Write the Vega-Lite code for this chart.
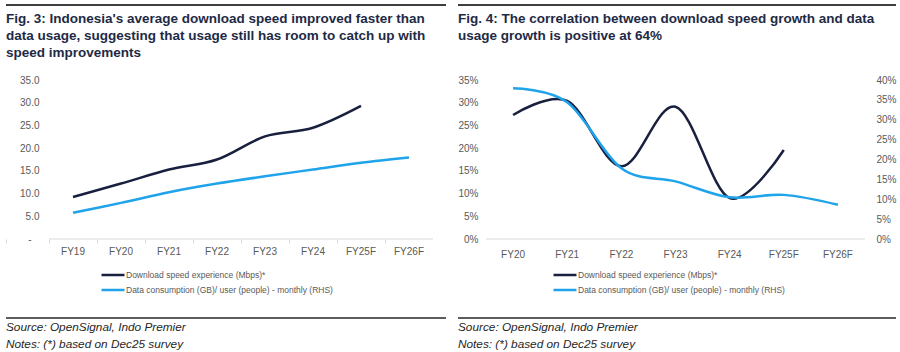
{
  "$schema": "https://vega.github.io/schema/vega-lite/v6.json",
  "padding": {"left": 5, "top": 4, "right": 0, "bottom": 0},
  "spacing": 10,
  "resolve": {"scale": {"color": "independent"}},
  "config": {
    "view": {"stroke": null},
    "font": "Liberation Sans",
    "axis": {"labelFont": "Liberation Sans", "labelColor": "#595959", "labelFontSize": 10, "grid": false, "title": null},
    "legend": {"labelFont": "Liberation Sans"}
  },
  "hconcat": [
    {
      "spacing": 22,
      "resolve": {"scale": {"color": "independent"}},
      "vconcat": [
        {
          "spacing": 5,
          "resolve": {"scale": {"color": "independent"}},
          "vconcat": [
            {
              "width": 440, "height": 2,
              "data": {"values": [{"k": "r"}]},
              "mark": {"type": "rule", "color": "#3f3f3f", "strokeWidth": 2},
              "encoding": {"y": {"field": "k", "type": "nominal", "axis": null}}
            },
            {
              "width": 427, "height": 159,
              "title": {
                "text": ["Fig. 3: Indonesia's average download speed improved faster than", "data usage, suggesting that usage still has room to catch up with", "speed improvements"],
                "anchor": "start", "frame": "group", "fontSize": 13.5, "fontWeight": "bold", "color": "#1e2a45", "lineHeight": 17, "offset": 16
              },
              "layer": [
                {
                  "data": {"values": [{"a": "FY19", "b": "FY26F"}]},
                  "mark": {"type": "rule", "color": "#d9d9d9", "strokeWidth": 1},
                  "encoding": {
                    "x": {"field": "a", "type": "ordinal", "bandPosition": 0,
                      "scale": {"type": "band", "domain": ["FY19", "FY20", "FY21", "FY22", "FY23", "FY24", "FY25F", "FY26F"], "paddingInner": 0, "paddingOuter": 0.448, "align": 1},
                      "axis": {"title": null, "domain": false, "ticks": true, "bandPosition": 0, "tickExtra": true, "tickSize": 4, "tickColor": "#d9d9d9", "labelPadding": 3, "labelAngle": 0}},
                    "x2": {"field": "b", "bandPosition": 1},
                    "y": {"datum": 0, "type": "quantitative", "scale": {"domain": [0, 35]},
                      "axis": {"title": null, "domain": false, "ticks": false, "tickSize": 0, "values": [0, 5, 10, 15, 20, 25, 30, 35], "labelPadding": {"condition": {"test": "datum.value == 0", "value": -25}, "value": -33}, "labelAlign": "right", "labelExpr": "datum.value == 0 ? '-' : format(datum.value, '.1f')"}}
                  }
                },
                {
                  "data": {"values": [
                    {"fy": "FY19", "series": "Download speed experience (Mbps)*", "v": 9.25},
                    {"fy": "FY20", "series": "Download speed experience (Mbps)*", "v": 12.2},
                    {"fy": "FY21", "series": "Download speed experience (Mbps)*", "v": 15.3},
                    {"fy": "FY22", "series": "Download speed experience (Mbps)*", "v": 17.5},
                    {"fy": "FY23", "series": "Download speed experience (Mbps)*", "v": 22.6},
                    {"fy": "FY24", "series": "Download speed experience (Mbps)*", "v": 24.5},
                    {"fy": "FY25F", "series": "Download speed experience (Mbps)*", "v": 29.3},
                    {"fy": "FY19", "series": "Data consumption (GB)/ user (people) - monthly (RHS)", "v": 5.8},
                    {"fy": "FY20", "series": "Data consumption (GB)/ user (people) - monthly (RHS)", "v": 7.95},
                    {"fy": "FY21", "series": "Data consumption (GB)/ user (people) - monthly (RHS)", "v": 10.3},
                    {"fy": "FY22", "series": "Data consumption (GB)/ user (people) - monthly (RHS)", "v": 12.2},
                    {"fy": "FY23", "series": "Data consumption (GB)/ user (people) - monthly (RHS)", "v": 13.8},
                    {"fy": "FY24", "series": "Data consumption (GB)/ user (people) - monthly (RHS)", "v": 15.3},
                    {"fy": "FY25F", "series": "Data consumption (GB)/ user (people) - monthly (RHS)", "v": 16.8},
                    {"fy": "FY26F", "series": "Data consumption (GB)/ user (people) - monthly (RHS)", "v": 17.95}
                  ]},
                  "mark": {"type": "line", "interpolate": "cardinal", "strokeWidth": 2.5},
                  "encoding": {
                    "x": {"field": "fy", "type": "ordinal",
                      "scale": {"type": "band", "domain": ["FY19", "FY20", "FY21", "FY22", "FY23", "FY24", "FY25F", "FY26F"], "paddingInner": 0, "paddingOuter": 0.448, "align": 1},
                      "axis": {"title": null, "domain": false, "ticks": true, "bandPosition": 0, "tickExtra": true, "tickSize": 4, "tickColor": "#d9d9d9", "labelPadding": 3, "labelAngle": 0}},
                    "y": {"field": "v", "type": "quantitative", "scale": {"domain": [0, 35]},
                      "axis": {"title": null, "domain": false, "ticks": false, "tickSize": 0, "values": [0, 5, 10, 15, 20, 25, 30, 35], "labelPadding": {"condition": {"test": "datum.value == 0", "value": -25}, "value": -33}, "labelAlign": "right", "labelExpr": "datum.value == 0 ? '-' : format(datum.value, '.1f')"}},
                    "color": {"field": "series", "type": "nominal",
                      "scale": {"domain": ["Download speed experience (Mbps)*", "Data consumption (GB)/ user (people) - monthly (RHS)"], "range": ["#19203f", "#1fa3ea"]},
                      "legend": {"title": null, "orient": "none", "legendX": 100, "legendY": 188, "direction": "vertical", "symbolType": "M-2,0H2", "symbolSize": 132, "symbolStrokeWidth": 2.5, "labelFontSize": 8.5, "labelColor": "#595959", "labelOffset": 6, "labelLimit": 0, "rowPadding": 3, "padding": 0}}
                  }
                }
              ]
            }
          ]
        },
        {
          "width": 440, "height": 2,
          "data": {"values": [{"k": "r"}]},
          "mark": {"type": "rule", "color": "#262626", "strokeWidth": 1.5},
          "encoding": {"y": {"field": "k", "type": "nominal", "axis": null}},
          "title": {"text": ["Source: OpenSignal, Indo Premier", "Notes: (*) based on Dec25 survey"], "orient": "bottom", "anchor": "start", "frame": "group", "fontSize": 11.8, "fontStyle": "italic", "fontWeight": "normal", "color": "#262626", "lineHeight": 16.5, "offset": 3}
        }
      ]
    },
    {
      "spacing": 22,
      "resolve": {"scale": {"color": "independent"}},
      "vconcat": [
        {
          "spacing": 5,
          "resolve": {"scale": {"color": "independent"}},
          "vconcat": [
            {
              "width": 438, "height": 2,
              "data": {"values": [{"k": "r"}]},
              "mark": {"type": "rule", "color": "#3f3f3f", "strokeWidth": 2},
              "encoding": {"y": {"field": "k", "type": "nominal", "axis": null}}
            },
            {
              "width": 407, "height": 159,
              "title": {
                "text": ["Fig. 4: The correlation between download speed growth and data", "usage growth is positive at 64%"],
                "anchor": "start", "frame": "group", "fontSize": 13.5, "fontWeight": "bold", "color": "#1e2a45", "lineHeight": 17, "offset": 33
              },
              "resolve": {"scale": {"y": "independent"}},
              "layer": [
                {
                  "layer": [
                    {
                      "data": {"values": [{"a": "FY20", "b": "FY26F"}]},
                      "mark": {"type": "rule", "color": "#d9d9d9", "strokeWidth": 1},
                      "encoding": {
                        "x": {"field": "a", "type": "ordinal", "bandPosition": 0,
                          "scale": {"type": "band", "domain": ["FY20", "FY21", "FY22", "FY23", "FY24", "FY25F", "FY26F"], "paddingInner": 0, "paddingOuter": 0.2585, "align": 1},
                          "axis": {"title": null, "domain": false, "ticks": false, "labelPadding": 10, "labelAngle": 0}},
                        "x2": {"field": "b", "bandPosition": 1},
                        "y": {"datum": 0, "type": "quantitative", "scale": {"domain": [0, 0.35]},
                          "axis": {"title": null, "domain": false, "ticks": false, "tickSize": 0, "values": [0, 0.05, 0.1, 0.15, 0.2, 0.25, 0.3, 0.35], "format": ".0%", "labelPadding": -20, "labelAlign": "right"}}
                      }
                    },
                    {
                      "data": {"values": [
                        {"fy": "FY20", "series": "Download speed experience (Mbps)*", "v": 0.273},
                        {"fy": "FY21", "series": "Download speed experience (Mbps)*", "v": 0.304},
                        {"fy": "FY22", "series": "Download speed experience (Mbps)*", "v": 0.16},
                        {"fy": "FY23", "series": "Download speed experience (Mbps)*", "v": 0.291},
                        {"fy": "FY24", "series": "Download speed experience (Mbps)*", "v": 0.09},
                        {"fy": "FY25F", "series": "Download speed experience (Mbps)*", "v": 0.196}
                      ]},
                      "mark": {"type": "line", "interpolate": "cardinal", "strokeWidth": 2.5},
                      "encoding": {
                        "x": {"field": "fy", "type": "ordinal",
                          "scale": {"type": "band", "domain": ["FY20", "FY21", "FY22", "FY23", "FY24", "FY25F", "FY26F"], "paddingInner": 0, "paddingOuter": 0.2585, "align": 1},
                          "axis": {"title": null, "domain": false, "ticks": false, "labelPadding": 10, "labelAngle": 0}},
                        "y": {"field": "v", "type": "quantitative", "scale": {"domain": [0, 0.35]},
                          "axis": {"title": null, "domain": false, "ticks": false, "tickSize": 0, "values": [0, 0.05, 0.1, 0.15, 0.2, 0.25, 0.3, 0.35], "format": ".0%", "labelPadding": -20, "labelAlign": "right"}},
                        "color": {"field": "series", "type": "nominal",
                          "scale": {"domain": ["Download speed experience (Mbps)*", "Data consumption (GB)/ user (people) - monthly (RHS)"], "range": ["#19203f", "#1fa3ea"]},
                          "legend": {"title": null, "orient": "none", "legendX": 100, "legendY": 188, "direction": "vertical", "symbolType": "M-2,0H2", "symbolSize": 132, "symbolStrokeWidth": 2.5, "labelFontSize": 8.5, "labelColor": "#595959", "labelOffset": 6, "labelLimit": 0, "rowPadding": 3, "padding": 0}}
                      }
                    }
                  ]
                },
                {
                  "data": {"values": [
                    {"fy": "FY20", "series": "Data consumption (GB)/ user (people) - monthly (RHS)", "v": 0.379},
                    {"fy": "FY21", "series": "Data consumption (GB)/ user (people) - monthly (RHS)", "v": 0.344},
                    {"fy": "FY22", "series": "Data consumption (GB)/ user (people) - monthly (RHS)", "v": 0.178},
                    {"fy": "FY23", "series": "Data consumption (GB)/ user (people) - monthly (RHS)", "v": 0.145},
                    {"fy": "FY24", "series": "Data consumption (GB)/ user (people) - monthly (RHS)", "v": 0.105},
                    {"fy": "FY25F", "series": "Data consumption (GB)/ user (people) - monthly (RHS)", "v": 0.111},
                    {"fy": "FY26F", "series": "Data consumption (GB)/ user (people) - monthly (RHS)", "v": 0.086}
                  ]},
                  "mark": {"type": "line", "interpolate": "cardinal", "strokeWidth": 2.5},
                  "encoding": {
                    "x": {"field": "fy", "type": "ordinal",
                      "scale": {"type": "band", "domain": ["FY20", "FY21", "FY22", "FY23", "FY24", "FY25F", "FY26F"], "paddingInner": 0, "paddingOuter": 0.2585, "align": 1},
                      "axis": {"title": null, "domain": false, "ticks": false, "labelPadding": 10, "labelAngle": 0}},
                    "y": {"field": "v", "type": "quantitative", "scale": {"domain": [0, 0.4]},
                      "axis": {"title": null, "orient": "right", "domain": false, "ticks": false, "tickSize": 0, "values": [0, 0.05, 0.1, 0.15, 0.2, 0.25, 0.3, 0.35, 0.4], "format": ".0%", "labelPadding": 11, "labelAlign": "left"}},
                    "color": {"field": "series", "type": "nominal",
                      "scale": {"domain": ["Download speed experience (Mbps)*", "Data consumption (GB)/ user (people) - monthly (RHS)"], "range": ["#19203f", "#1fa3ea"]},
                      "legend": {"title": null, "orient": "none", "legendX": 100, "legendY": 188, "direction": "vertical", "symbolType": "M-2,0H2", "symbolSize": 132, "symbolStrokeWidth": 2.5, "labelFontSize": 8.5, "labelColor": "#595959", "labelOffset": 6, "labelLimit": 0, "rowPadding": 3, "padding": 0}}
                  }
                }
              ]
            }
          ]
        },
        {
          "width": 438, "height": 2,
          "data": {"values": [{"k": "r"}]},
          "mark": {"type": "rule", "color": "#262626", "strokeWidth": 1.5},
          "encoding": {"y": {"field": "k", "type": "nominal", "axis": null}},
          "title": {"text": ["Source: OpenSignal, Indo Premier", "Notes: (*) based on Dec25 survey"], "orient": "bottom", "anchor": "start", "frame": "group", "fontSize": 11.8, "fontStyle": "italic", "fontWeight": "normal", "color": "#262626", "lineHeight": 16.5, "offset": 3}
        }
      ]
    }
  ]
}
